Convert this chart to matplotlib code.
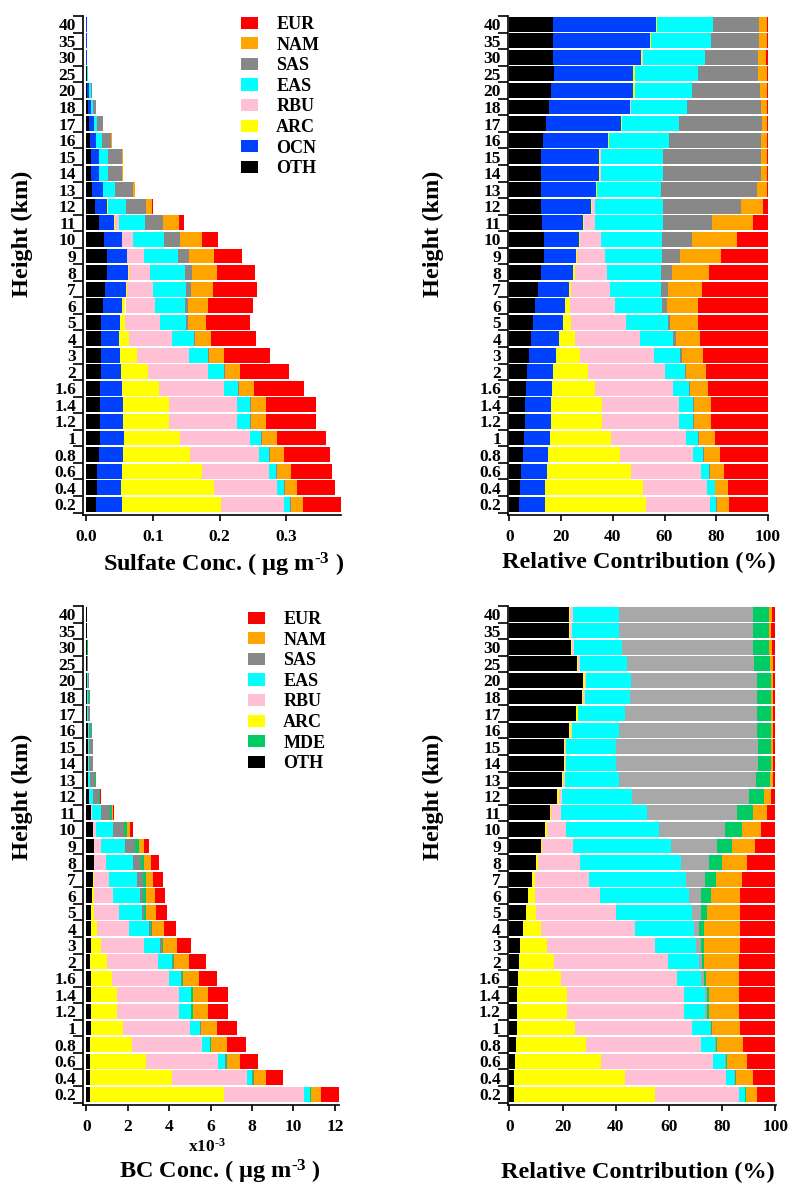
import numpy as np
import matplotlib
matplotlib.use('Agg')
import matplotlib.pyplot as plt
from matplotlib.patches import Patch

plt.rcParams['font.family'] = ['Liberation Serif', 'DejaVu Serif']
plt.rcParams['font.weight'] = 'bold'
plt.rcParams['mathtext.fontset'] = 'custom'
plt.rcParams['mathtext.rm'] = 'Liberation Serif:bold'
plt.rcParams['mathtext.bf'] = 'Liberation Serif:bold'
plt.rcParams['mathtext.default'] = 'bf'

# height levels (km), bottom -> top
heights = ['0.2', '0.4', '0.6', '0.8', '1', '1.2', '1.4', '1.6', '2', '3',
           '4', '5', '6', '7', '8', '9', '10', '11', '12', '13',
           '14', '15', '16', '17', '18', '20', '25', '30', '35', '40']

# ---- sulfate: total concentration (ug m-3) and source share (%) ----
so4_total = [0.383, 0.373, 0.369, 0.365, 0.360, 0.345, 0.345, 0.327, 0.304, 0.276,
             0.254, 0.245, 0.250, 0.256, 0.253, 0.234, 0.198, 0.147, 0.100, 0.073,
             0.055, 0.055, 0.038, 0.025, 0.015, 0.009, 0.003, 0.0012, 0.0008, 0.0007]
so4_oth = [3.9, 4.1, 4.5, 5.2, 5.5, 5.9, 5.9, 6.3, 7.0, 7.7,
           8.5, 9.2, 10.1, 11.0, 12.1, 13.3, 13.4, 12.8, 12.4, 12.3,
           12.3, 12.3, 13.0, 14.3, 15.4, 16.1, 17.3, 17.0, 16.9, 16.9]
so4_ocn = [9.9, 9.7, 10.1, 9.9, 10.1, 10.1, 10.1, 10.2, 10.0, 10.5,
           10.9, 11.4, 11.6, 12.2, 12.5, 12.5, 13.6, 15.7, 19.1, 21.1,
           22.4, 22.4, 25.2, 28.7, 31.1, 31.9, 30.7, 34.0, 37.6, 39.9]
so4_arc = [39.0, 37.7, 32.5, 27.6, 23.6, 20.0, 20.0, 16.8, 13.5, 9.3,
           5.9, 3.1, 1.8, 0.8, 0.7, 0.4, 0.2, 0.3, 0.5, 0.5,
           0.5, 0.5, 0.4, 0.4, 0.3, 0.5, 0.5, 0.4, 0.4, 0.3]
so4_rbu = [24.7, 25.1, 27.0, 28.4, 29.1, 29.5, 29.5, 29.8, 29.6, 28.4,
           25.2, 21.3, 17.5, 15.1, 12.5, 10.8, 8.2, 4.5, 1.0, 0.1,
           0.1, 0.1, 0.1, 0.1, 0.1, 0.1, 0.1, 0.1, 0.1, 0.1]
so4_eas = [2.4, 2.9, 3.1, 3.9, 4.5, 5.6, 5.6, 6.4, 7.9, 10.0,
           12.9, 16.2, 18.2, 19.5, 20.7, 22.0, 23.8, 26.2, 26.5, 24.6,
           24.2, 24.2, 23.1, 22.2, 21.9, 21.9, 24.4, 24.2, 22.9, 21.5]
so4_sas = [0.4, 0.2, 0.3, 0.4, 0.4, 0.4, 0.4, 0.4, 0.4, 0.8,
           0.9, 1.1, 1.8, 2.7, 4.3, 6.8, 11.5, 19.0, 29.9, 37.3,
           37.8, 37.8, 35.6, 31.8, 28.5, 26.4, 23.0, 20.3, 18.8, 17.8]
so4_nam = [4.6, 4.9, 5.5, 5.9, 6.3, 6.6, 6.6, 7.1, 7.5, 8.3,
           9.6, 10.7, 11.8, 13.0, 14.5, 16.0, 17.2, 15.6, 8.8, 3.6,
           2.3, 2.3, 2.2, 2.2, 2.3, 2.6, 3.5, 3.4, 3.0, 3.0]
so4_eur = [15.1, 15.4, 17.0, 18.7, 20.5, 21.9, 21.9, 23.0, 24.1, 25.0,
           26.1, 27.0, 27.2, 25.7, 22.7, 18.2, 12.1, 5.9, 1.8, 0.5,
           0.4, 0.4, 0.4, 0.3, 0.4, 0.5, 0.5, 0.6, 0.4, 0.5]

# ---- BC: total concentration (x10^-3 ug m-3) and source share (%) ----
bc_total = [12.18, 9.48, 8.29, 7.71, 7.29, 6.84, 6.84, 6.33, 5.77, 5.06,
            4.35, 3.90, 3.81, 3.69, 3.49, 3.04, 2.25, 1.35, 0.69, 0.47,
            0.34, 0.34, 0.26, 0.18, 0.16, 0.13, 0.08, 0.06, 0.05, 0.04]
bc_oth = [1.6, 1.9, 2.3, 2.5, 2.8, 3.0, 3.0, 3.3, 3.5, 4.0,
          5.0, 6.1, 7.1, 8.5, 10.1, 12.0, 13.6, 15.4, 18.0, 19.8,
          20.5, 20.5, 22.5, 25.2, 27.3, 27.8, 25.4, 23.2, 22.5, 22.5]
bc_arc = [53.1, 41.7, 32.2, 26.2, 21.7, 18.7, 18.7, 16.0, 13.4, 10.3,
          6.8, 3.9, 2.4, 1.3, 0.5, 0.4, 0.4, 0.4, 0.5, 0.5,
          0.5, 0.5, 0.5, 0.5, 0.5, 0.6, 0.4, 0.5, 0.4, 0.4]
bc_rbu = [31.5, 38.0, 42.1, 43.5, 44.1, 44.0, 44.0, 43.8, 42.8, 40.4,
          35.6, 30.0, 24.5, 20.1, 16.1, 11.5, 7.4, 3.8, 1.3, 0.6,
          0.4, 0.4, 0.4, 0.3, 0.5, 0.4, 0.7, 0.7, 0.8, 0.9]
bc_eas = [2.3, 3.0, 4.4, 5.0, 6.7, 7.9, 7.9, 9.1, 11.6, 15.6,
          21.9, 28.5, 33.6, 36.4, 37.8, 37.0, 35.0, 32.1, 26.4, 20.3,
          18.6, 18.6, 17.8, 17.4, 16.9, 17.1, 17.6, 17.8, 17.6, 17.4]
bc_sas = [0.2, 0.3, 0.4, 0.4, 0.4, 0.5, 0.5, 0.8, 1.0, 1.7,
          2.0, 3.5, 4.6, 7.3, 10.7, 17.1, 24.8, 33.8, 43.9, 51.4,
          53.4, 53.4, 51.9, 49.7, 47.9, 47.2, 48.0, 49.4, 50.3, 50.4]
bc_mde = [0.3, 0.3, 0.3, 0.6, 0.5, 0.9, 0.9, 1.0, 1.0, 1.2,
          1.9, 2.2, 3.5, 3.9, 4.9, 5.7, 6.3, 6.0, 5.6, 5.3,
          5.1, 5.1, 5.3, 5.3, 5.3, 5.3, 5.8, 5.9, 5.8, 6.0]
bc_nam = [4.1, 6.2, 7.8, 9.7, 10.5, 11.2, 11.2, 12.2, 12.9, 13.3,
          13.3, 12.3, 10.9, 10.1, 9.4, 8.5, 7.2, 5.4, 2.5, 1.1,
          0.6, 0.6, 0.6, 0.6, 0.6, 0.6, 1.0, 1.1, 1.1, 1.1]
bc_eur = [6.9, 8.6, 10.5, 12.1, 13.3, 13.8, 13.8, 13.8, 13.8, 13.5,
          13.5, 13.5, 13.4, 12.4, 10.5, 7.8, 5.3, 3.1, 1.8, 1.0,
          0.9, 0.9, 1.0, 1.0, 1.0, 1.0, 1.1, 1.4, 1.5, 1.3]

colors = {'OTH': 'black', 'OCN': '#0040ff', 'ARC': '#ffff00', 'RBU': '#ffbfd4',
          'EAS': '#00ffff', 'SAS': '#888888', 'MDE': '#00cc66',
          'NAM': '#ffa500', 'EUR': '#ff0000'}

so4_names = ['OTH', 'OCN', 'ARC', 'RBU', 'EAS', 'SAS', 'NAM', 'EUR']
so4_shares = [so4_oth, so4_ocn, so4_arc, so4_rbu, so4_eas, so4_sas, so4_nam, so4_eur]
bc_names = ['OTH', 'ARC', 'RBU', 'EAS', 'SAS', 'MDE', 'NAM', 'EUR']
bc_shares = [bc_oth, bc_arc, bc_rbu, bc_eas, bc_sas, bc_mde, bc_nam, bc_eur]

W, H = 791, 1186
TICK_FS = 12.5


def fx(x):
    return x / W


def fy(y):
    return 1 - y / H


def stack(ax, names, shares, total, relative, gray=None):
    sh = np.array(shares, dtype=float)
    sh = sh / sh.sum(axis=0) * 100.0
    vals = sh if relative else sh * np.array(total) / 100.0
    y = np.arange(len(heights))
    left = np.zeros(len(heights))
    for name, v in zip(names, vals):
        c = colors[name]
        if name == 'SAS' and gray is not None:
            c = gray
        ax.barh(y, v, left=left, height=0.9, color=c, linewidth=0, label=name)
        left += v


def style(ax, xlim, xticks, xticklabels):
    ax.set_ylim(-0.65, 29.5)
    ax.set_xlim(*xlim)
    ax.set_yticks(np.arange(len(heights)))
    ax.set_yticklabels(heights, fontsize=TICK_FS, fontweight='bold')
    ax.set_yticks(np.arange(-0.5, len(heights), 1), minor=True)
    ax.tick_params(axis='y', which='major', length=0, pad=5)
    ax.tick_params(axis='y', which='minor', length=7, width=1.2, direction='out')
    ax.set_xticks(xticks)
    ax.set_xticklabels(xticklabels, fontsize=TICK_FS, fontweight='bold')
    ax.tick_params(axis='x', which='major', length=4, width=1.2, direction='out', pad=6)
    for s in ['top', 'right']:
        ax.spines[s].set_visible(False)
    for s in ['left', 'bottom']:
        ax.spines[s].set_linewidth(1.2)


fig = plt.figure(figsize=(W / 100, H / 100), dpi=100)

ax1 = fig.add_axes([fx(83), fy(515), 258 / W, 499 / H])
ax2 = fig.add_axes([fx(508), fy(515), 260 / W, 499 / H])
ax3 = fig.add_axes([fx(83), fy(1105), 256 / W, 499 / H])
ax4 = fig.add_axes([fx(507.7), fy(1105), 268 / W, 499 / H])

stack(ax1, so4_names, so4_shares, so4_total, False)
stack(ax2, so4_names, so4_shares, so4_total, True)
stack(ax3, bc_names, bc_shares, bc_total, False)
stack(ax4, bc_names, bc_shares, bc_total, True, gray='#a8a8a8')

style(ax1, (-0.005, 0.382), [0.0, 0.1, 0.2, 0.3], ['0.0', '0.1', '0.2', '0.3'])
style(ax2, (-0.5, 100), [0, 20, 40, 60, 80, 100], ['0', '20', '40', '60', '80', '100'])
style(ax3, (-0.16, 12.2), [0, 2, 4, 6, 8, 10, 12], ['0', '2', '4', '6', '8', '10', '12'])
style(ax4, (-0.6, 100.1), [0, 20, 40, 60, 80, 100], ['0', '20', '40', '60', '80', '100'])

# legends
so4_leg = ['EUR', 'NAM', 'SAS', 'EAS', 'RBU', 'ARC', 'OCN', 'OTH']
bc_leg = ['EUR', 'NAM', 'SAS', 'EAS', 'RBU', 'ARC', 'MDE', 'OTH']
for ax, order, anchor in [(ax1, so4_leg, (241, 16)), (ax3, bc_leg, (248, 611))]:
    handles = [Patch(facecolor=colors[n], edgecolor='none') for n in order]
    ax.legend(handles, order, loc='upper left', bbox_to_anchor=(fx(anchor[0]), fy(anchor[1])),
              bbox_transform=fig.transFigure, frameon=False,
              prop={'weight': 'bold', 'size': 13},
              handlelength=0.95, handleheight=0.65, handletextpad=1.0,
              labelspacing=0.2, borderpad=0, borderaxespad=0)

# axis labels
unit = r'( μg m$^{\text{-3}}$ )'
lab = dict(fontsize=17.5, fontweight='bold', ha='center', va='center')
fig.text(fx(224), fy(565), 'Sulfate Conc. ' + unit, **lab)
fig.text(fx(639), fy(562), 'Relative Contribution (%)', **lab)
fig.text(fx(220), fy(1172), 'BC Conc. ' + unit, **lab)
fig.text(fx(638), fy(1172), 'Relative Contribution (%)', **lab)
fig.text(fx(207), fy(1147), r'x10$^{\text{-3}}$', fontsize=12.5, fontweight='bold',
         ha='center', va='center')
for x, y in [(22, 234), (433, 234), (22, 797), (433, 797)]:
    fig.text(fx(x), fy(y), 'Height (km)', rotation=90, **lab)

fig.savefig('out.png', dpi=100)
